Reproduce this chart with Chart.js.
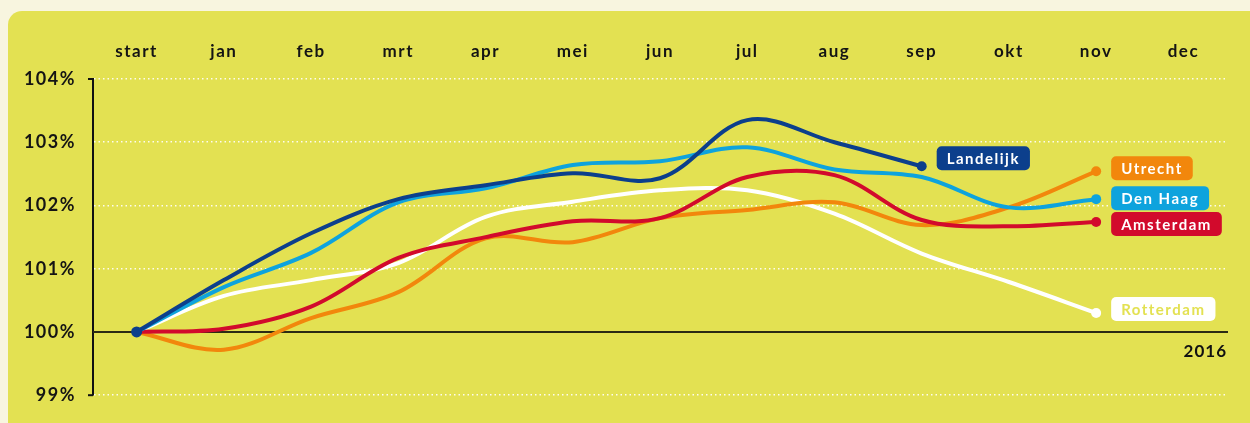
<!DOCTYPE html>
<html lang="nl">
<head>
  <meta charset="utf-8">
  <title>Prijsontwikkeling 2016</title>
  <style>
    html, body {
      margin: 0;
      padding: 0;
      width: 1250px;
      height: 423px;
      overflow: hidden;
      background-color: #f8f5df;
    }
    #panel {
      position: absolute;
      left: 8px;
      top: 11px;
      width: 1280px;
      height: 440px;
      border-radius: 14px;
      background-color: #e3e152;
    }
    #wrap {
      position: absolute;
      left: 0;
      top: 0;
      width: 1250px;
      height: 423px;
    }
  </style>
  <script src="https://cdn.jsdelivr.net/npm/chart.js"></script>
</head>
<body>
  <div id="panel"></div>
  <div id="wrap"><canvas id="graph"></canvas></div>
  <script>
    // maanden (as bovenaan)
    var months = ['start', 'jan', 'feb', 'mrt', 'apr', 'mei', 'jun', 'jul', 'aug', 'sep', 'okt', 'nov', 'dec'];
    // index, start = 100%
    var landelijk = [100, 100.82, 101.56, 102.1, 102.32, 102.51, 102.43, 103.35, 103.0, 102.62];
    var denHaag   = [100, 100.71, 101.25, 102.05, 102.27, 102.64, 102.7, 102.92, 102.57, 102.45, 101.97, 102.1];
    var amsterdam = [100, 100.05, 100.4, 101.17, 101.5, 101.75, 101.8, 102.45, 102.48, 101.77, 101.67, 101.74];
    var utrecht   = [100, 99.72, 100.22, 100.63, 101.48, 101.42, 101.8, 101.93, 102.05, 101.69, 101.97, 102.54];
    var rotterdam = [100, 100.57, 100.82, 101.09, 101.82, 102.06, 102.24, 102.24, 101.87, 101.24, 100.79, 100.3];
    var yTicks = [99, 100, 101, 102, 103, 104];
    var yearLabel = '2016';

    var seriesNames  = ['Landelijk', 'Den Haag', 'Amsterdam', 'Utrecht', 'Rotterdam'];
    var seriesData   = [landelijk, denHaag, amsterdam, utrecht, rotterdam];
    var seriesColors = ['#0c3f8c', '#0ea3dd', '#d20a2c', '#f2870c', '#ffffff'];
    var labelText    = ['#ffffff', '#ffffff', '#ffffff', '#ffffff', '#e3e152'];
    var labelShift   = [-8, -1, 2, -3, -4];

    var FONT = 'Lato, "Open Sans", sans-serif';

    var datasets = seriesNames.map(function (name, i) {
      var last = seriesData[i].length - 1;
      return {
        label: name,
        data: seriesData[i],
        borderColor: seriesColors[i],
        backgroundColor: seriesColors[i],
        borderWidth: 4,
        tension: 0.35,
        fill: false,
        pointRadius: function (c) {
          if (c.dataIndex === last) return 5;
          if (i === 0 && c.dataIndex === 0) return 5.5;
          return 0;
        },
        pointHoverRadius: 0,
        pointBorderWidth: 0
      };
    });

    var decorPlugin = {
      id: 'decor',
      beforeDraw: function (chart) {
        chart.ctx.letterSpacing = '1.5px';
      },
      beforeDatasetsDraw: function (chart) {
        var ctx = chart.ctx;
        var area = chart.chartArea;
        var y = chart.scales.y;
        ctx.save();
        // basislijn 100%
        var y100 = y.getPixelForValue(100);
        ctx.strokeStyle = '#2b2b14';
        ctx.lineWidth = 2;
        ctx.beginPath();
        ctx.moveTo(area.left, y100);
        ctx.lineTo(area.right + 1, y100);
        ctx.stroke();
        // streepjes aan de uiteinden van de as
        ctx.strokeStyle = '#111111';
        [y.min, y.max].forEach(function (v) {
          var p = y.getPixelForValue(v);
          ctx.beginPath();
          ctx.moveTo(area.left - 5, p);
          ctx.lineTo(area.left, p);
          ctx.stroke();
        });
        // jaartal
        ctx.fillStyle = '#111111';
        ctx.font = 'bold 17px ' + FONT;
        ctx.letterSpacing = '1px';
        ctx.textAlign = 'right';
        ctx.textBaseline = 'middle';
        ctx.fillText(yearLabel, area.right, y100 + 20);
        ctx.restore();
      },
      afterDatasetsDraw: function (chart) {
        var ctx = chart.ctx;
        chart.data.datasets.forEach(function (ds, i) {
          var meta = chart.getDatasetMeta(i);
          var pt = meta.data[meta.data.length - 1];
          ctx.save();
          ctx.font = 'bold 15px ' + FONT;
          ctx.letterSpacing = '1.5px';
          var w = ctx.measureText(ds.label).width + 20;
          var h = 24;
          var x = pt.x + 15;
          var top = pt.y + labelShift[i] - h / 2;
          ctx.fillStyle = ds.borderColor;
          ctx.beginPath();
          ctx.roundRect(x, top, w, h, 5);
          ctx.fill();
          ctx.fillStyle = labelText[i];
          ctx.textAlign = 'left';
          ctx.textBaseline = 'middle';
          ctx.fillText(ds.label, x + 10, top + h / 2 + 1);
          ctx.restore();
        });
      }
    };

    var ctx = document.getElementById('graph').getContext('2d');
    window.myChart = new Chart(ctx, {
      type: 'line',
      data: {
        labels: months,
        datasets: datasets
      },
      options: {
        responsive: true,
        maintainAspectRatio: false,
        animation: false,
        layout: {
          padding: { top: 0, left: 0, right: 23, bottom: 27 }
        },
        plugins: {
          legend: { display: false },
          tooltip: { enabled: false }
        },
        scales: {
          x: {
            type: 'category',
            position: 'top',
            offset: true,
            grid: { display: false, drawTicks: false },
            border: { display: false },
            ticks: {
              autoSkip: false,
              maxRotation: 0,
              padding: 17,
              color: '#141414',
              font: { family: FONT, size: 17, weight: 'bold' }
            },
            afterFit: function (scale) { scale.height = 79; }
          },
          y: {
            min: 99,
            max: 104,
            afterBuildTicks: function (scale) {
              scale.ticks = yTicks.map(function (v) { return { value: v }; });
            },
            grid: {
              color: 'rgba(255,255,255,0.9)',
              lineWidth: 1.5,
              drawTicks: false
            },
            border: {
              display: true,
              color: '#111111',
              width: 2,
              dash: [1.5, 3]
            },
            ticks: {
              padding: 17,
              color: '#141414',
              font: { family: FONT, size: 18, weight: 'bold' },
              callback: function (v) { return v + '%'; }
            },
            afterFit: function (scale) { scale.width = 93; }
          }
        }
      },
      plugins: [decorPlugin]
    });
  </script>
</body>
</html>
